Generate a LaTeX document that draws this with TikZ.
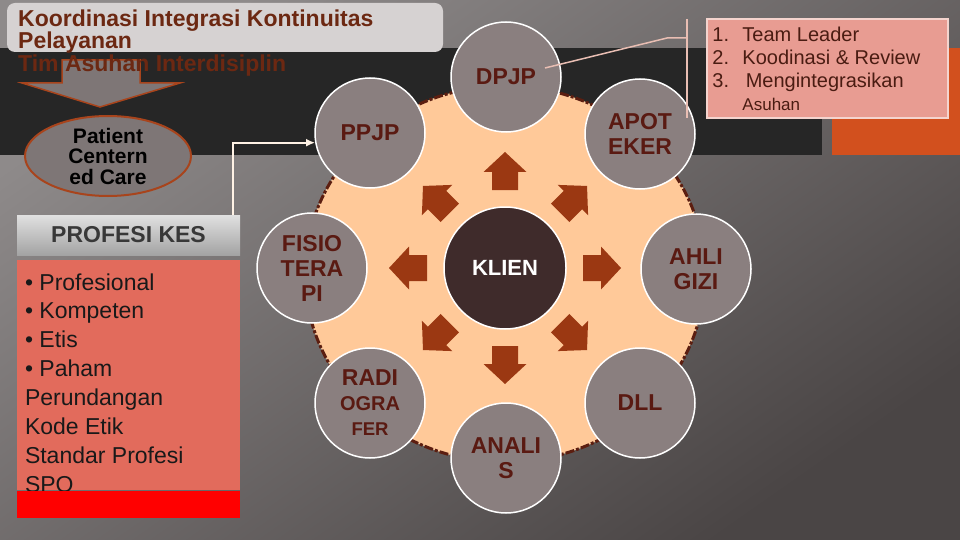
\documentclass[tikz,border=0pt]{standalone}
\usepackage{fontspec}
\setmainfont{Liberation Sans}
\usetikzlibrary{positioning,shapes.geometric,arrows.meta}

\definecolor{bgLight}{HTML}{8E8A8A}
\definecolor{bgDark}{HTML}{4A4545}
\definecolor{bandDark}{HTML}{262626}
\definecolor{bandOrange}{HTML}{D2501E}
\definecolor{titleGray}{HTML}{D6D2D2}
\definecolor{titleBrown}{HTML}{6C2812}
\definecolor{ringPeach}{HTML}{FFC999}
\definecolor{ringDash}{HTML}{5C1E10}
\definecolor{arrowRust}{HTML}{9B3812}
\definecolor{circleGray}{HTML}{8A7F7F}
\definecolor{labelMaroon}{HTML}{5A1A12}
\definecolor{klienDark}{HTML}{3F2B2B}
\definecolor{boxSalmon}{HTML}{E26B5C}
\definecolor{notePink}{HTML}{E89C92}
\definecolor{noteEdge}{HTML}{F4D4CE}
\definecolor{noteText}{HTML}{4A1C12}
\definecolor{pccGray}{HTML}{7E7676}
\definecolor{pccEdge}{HTML}{A8441C}

\tikzset{
    team-circle/.style = {draw=white, line width=1.5pt, fill=circleGray, circle, minimum size=110pt, inner sep=0pt, align=center, text=labelMaroon, font=\fontsize{23}{25}\selectfont\bfseries},
    klien-circle/.style = {draw=white, line width=1.5pt, fill=klienDark, circle, minimum size=122pt, inner sep=0pt, text=white, font=\fontsize{22}{25}\selectfont\bfseries},
    ring/.style = {fill=ringPeach, draw=ringDash, line width=3pt, dash pattern=on 9pt off 2pt on 3pt off 2pt},
    title-box/.style = {fill=titleGray, rectangle, rounded corners=8pt, minimum width=436pt, minimum height=49pt, inner sep=0pt},
    title-text/.style = {text=titleBrown, align=left, inner sep=0pt, font=\fontsize{23}{19.5}\selectfont\bfseries},
    pcc-ellipse/.style = {ellipse, fill=pccGray, draw=pccEdge, line width=2pt, minimum width=166pt, minimum height=80pt, inner sep=0pt, align=center, font=\fontsize{21}{20.5}\selectfont\bfseries},
    prof-header/.style = {rectangle, top color=white!88!black, bottom color=white!64!black, minimum width=223pt, minimum height=40pt, inner sep=0pt, text=black!78, font=\fontsize{23}{25}\selectfont\bfseries},
    prof-body/.style = {rectangle, fill=boxSalmon, minimum width=223pt, minimum height=230pt, inner sep=0pt},
    prof-bar/.style = {rectangle, fill=red, minimum width=223pt, minimum height=27pt, inner sep=0pt},
    prof-list/.style = {align=left, inner sep=0pt, text=black!90, font=\fontsize{23}{28.9}\selectfont},
    note-box/.style = {rectangle, fill=notePink, draw=noteEdge, line width=1.5pt, minimum width=241pt, minimum height=99pt, inner sep=0pt},
    note-list/.style = {align=left, inner sep=0pt, text=noteText, font=\fontsize{20}{23}\selectfont},
    note-line/.style = {draw=noteEdge!85!pccEdge, line width=1.5pt},
    link-line/.style = {draw=white!90!orange, line width=2pt, -{Latex[length=9pt,width=8pt]}},
}

\begin{document}
\begin{tikzpicture}[x=1pt, y=-1pt]
\useasboundingbox (0,0) rectangle (960,540);
% backdrop
\shade[top color=bgLight, bottom color=bgDark, shading angle=35] (0,0) rectangle (960,540);
\fill[bandDark] (0,48) rectangle (822,155);
\fill[bandOrange] (832,48) rectangle (960,155);

% title
\node[title-box] (titlebox) at (225,27.5) {};
\filldraw[fill=pccGray, draw=pccEdge, line width=1.5pt] (62,60) -- (140,60) -- (140,83) -- (180,83) -- (100,107) -- (22,83) -- (62,83) -- cycle;
\node[title-text, anchor=north west] (title) at (18,9.5) {Koordinasi Integrasi Kontinuitas\\Pelayanan\\Tim Asuhan Interdisiplin};
\node[pcc-ellipse] (pcc) at (108,156) {Patient\\Centern\\ed Care};

% profesi kesehatan
\node[prof-header] (profhdr) at (128.5,235) {PROFESI KES};
\node[prof-body, below=5pt of profhdr] (profbody) {};
\node[prof-list, anchor=north west] (proflist) at ([xshift=8pt,yshift=-13pt]profbody.north west) {%
    \textbullet\ Profesional\\
    \textbullet\ Kompeten\\
    \textbullet\ Etis\\
    \textbullet\ Paham\\
    Perundangan\\
    Kode Etik\\
    Standar Profesi\\
    SPO};
\node[prof-bar, below=0pt of profbody] (profbar) {};

% team wheel
\coordinate (hub) at (505,268);
\draw[ring] ([yshift=-6pt]hub) ellipse [x radius=200pt, y radius=188pt];
\node[klien-circle] (klien) at (hub) {KLIEN};
\foreach \ang in {0,45,...,315}
    \fill[arrowRust, shift={(klien.center)}, rotate=\ang] (78,-13) -- (96,-13) -- (96,-21.5) -- (116,0) -- (96,21.5) -- (96,13) -- (78,13) -- cycle;

\node[team-circle] (dpjp) at (506,77) {DPJP};
\node[team-circle] (apoteker) at (640,134) {APOT\\EKER};
\node[team-circle] (ahligizi) at (696,269) {AHLI\\GIZI};
\node[team-circle] (dll) at (640,403) {DLL};
\node[team-circle] (analis) at (506,458) {ANALI\\S};
\node[team-circle] (radiografer) at (370,403) {RADI\\{\fontsize{20}{24}\selectfont OGRA}\\{\fontsize{18.5}{23}\selectfont FER}};
\node[team-circle] (fisioterapi) at (312,268) {FISIO\\TERA\\PI};
\node[team-circle] (ppjp) at (370,133) {PPJP};

\draw[link-line] ([xshift=-7pt]profhdr.north east) |- (ppjp.190);

% catatan DPJP
\coordinate (notebend) at (667,38);
\coordinate (brktop) at (687,19);
\coordinate (brkbot) at (687,118);
\draw[note-line] ([xshift=39pt,yshift=9pt]dpjp.center) -- (notebend) -- (notebend -| brktop);
\draw[note-line] (brktop) -- (brkbot);
\node[note-box] (note) at (827.5,68.5) {};
\node[note-list, anchor=north west] (notelist) at ([xshift=6pt,yshift=-8.4pt]note.north west) {%
    \makebox[30pt][l]{1.}Team Leader\\
    \makebox[30pt][l]{2.}Koodinasi \& Review\\
    \makebox[30pt][l]{3.}\,Mengintegrasikan\\
    \hspace*{30pt}{\fontsize{17}{20}\selectfont Asuhan}};
\end{tikzpicture}
\end{document}
